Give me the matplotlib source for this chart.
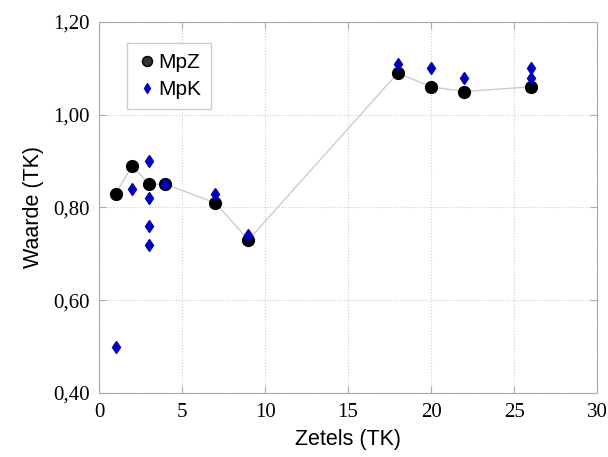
import matplotlib
matplotlib.use('Agg')
import matplotlib.pyplot as plt
from matplotlib.ticker import FuncFormatter, MultipleLocator

# MpZ series (connected by a light line)
mpz_x = [1, 2, 3, 4, 7, 9, 18, 20, 22, 26]
mpz_y = [0.83, 0.89, 0.85, 0.85, 0.81, 0.73, 1.09, 1.06, 1.05, 1.06]

# MpK series (loose points)
mpk_x = [1, 2, 3, 3, 3, 3, 4, 7, 9, 18, 20, 22, 26, 26]
mpk_y = [0.50, 0.84, 0.90, 0.82, 0.76, 0.72, 0.85, 0.83, 0.74, 1.11, 1.10, 1.08, 1.10, 1.08]

fig = plt.figure(figsize=(6.08, 4.57), dpi=100)
ax = fig.add_axes([0.163, 0.140, 0.819, 0.812])

ax.plot(mpz_x, mpz_y, '-', color='#cccccc', lw=1, zorder=2)
ax.plot(mpz_x, mpz_y, 'o', color='black', markersize=8.5, ls='none', label='MpZ', zorder=3)
ax.plot(mpk_x, mpk_y, 'd', color='#0000bb', markersize=6.5, ls='none', label='MpK', zorder=4)

ax.set_xlim(0, 30)
ax.set_ylim(0.40, 1.20)
ax.xaxis.set_major_locator(MultipleLocator(5))
ax.yaxis.set_major_locator(MultipleLocator(0.2))
ax.yaxis.set_major_formatter(FuncFormatter(lambda v, p: ('%.2f' % v).replace('.', ',')))

ax.grid(True, color='#cccccc', linestyle=':', linewidth=0.8)
for s in ax.spines.values():
    s.set_color('#aaaaaa')
ax.tick_params(direction='in', color='#aaaaaa', length=5, top=True, right=True,
               labelsize=15, pad=7)
for lab in ax.get_xticklabels() + ax.get_yticklabels():
    lab.set_fontfamily('Liberation Serif')

ax.set_xlabel('Zetels (TK)', fontsize=15.5, family='Liberation Sans', labelpad=5)
ax.set_ylabel('Waarde (TK)', fontsize=15.5, family='Liberation Sans', labelpad=6)

leg = ax.legend(loc='upper left', bbox_to_anchor=(0.035, 0.97), fancybox=False,
                prop={'family': 'Liberation Sans', 'size': 15}, handletextpad=0.05,
                handlelength=1.0, borderpad=0.45, labelspacing=0.4, markerscale=0.85,
                framealpha=1)
leg.get_frame().set_edgecolor('#cccccc')
leg.get_frame().set_linewidth(1)
leg.legend_handles[0].set_markerfacecolor('#333333')

fig.savefig('out.png', dpi=100)
